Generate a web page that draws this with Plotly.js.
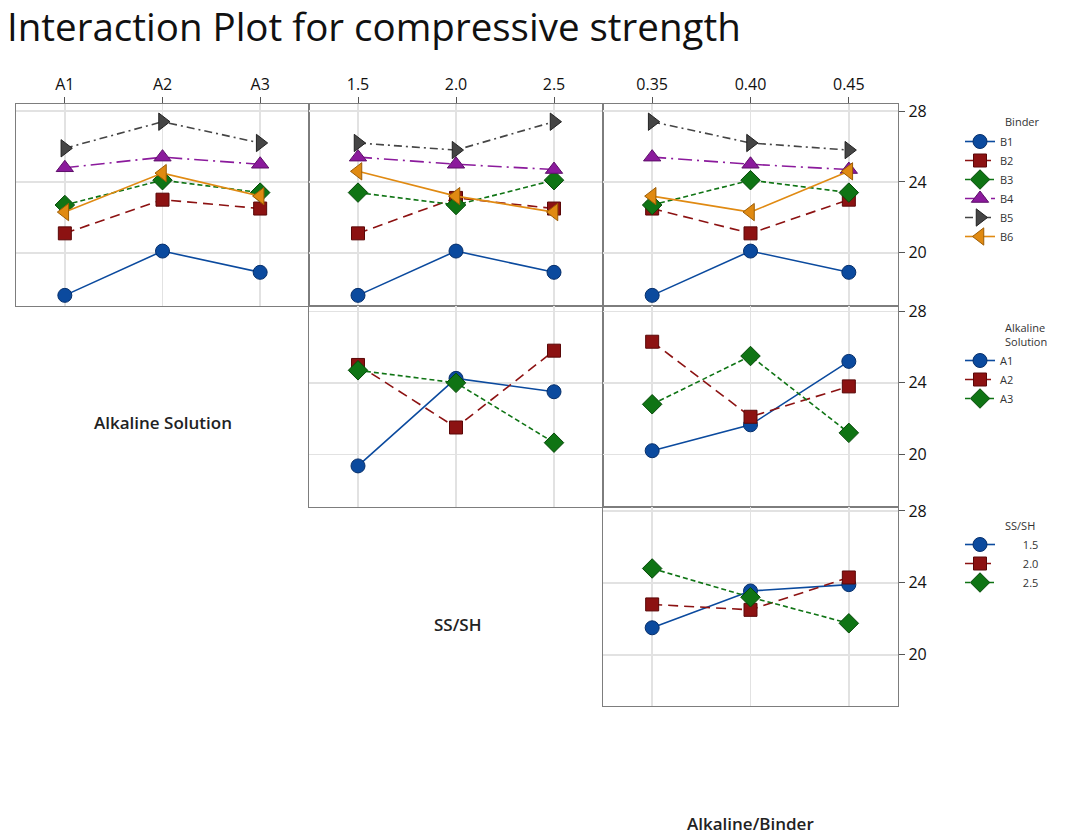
<!DOCTYPE html>
<html>
<head>
<meta charset="utf-8">
<script src="https://cdn.plot.ly/plotly-3.0.1.min.js"></script>
<style>html,body{margin:0;padding:0;background:#fff;}#chart{width:1066px;height:835px;}</style>
</head>
<body>
<div id="chart"></div>
<script>
// ---------- data ----------
const binders = ['B1', 'B2', 'B3', 'B4', 'B5', 'B6'];
const alkSolLevels = ['A1', 'A2', 'A3'];
const ssShLevels = ['1.5', '2.0', '2.5'];
const alkBinderLevels = ['0.35', '0.40', '0.45'];

// Binder x Alkaline Solution (rows = B1..B6)
const binderByAlkSol = [
  [17.6, 20.1, 18.9],
  [21.1, 23.0, 22.5],
  [22.7, 24.1, 23.4],
  [24.8, 25.4, 25.0],
  [25.9, 27.4, 26.2],
  [22.3, 24.5, 23.2]
];
// Binder x SS/SH
const binderBySsSh = [
  [17.6, 20.1, 18.9],
  [21.1, 23.1, 22.5],
  [23.4, 22.7, 24.1],
  [25.4, 25.0, 24.7],
  [26.2, 25.8, 27.4],
  [24.6, 23.2, 22.3]
];
// Binder x Alkaline/Binder
const binderByAlkBinder = [
  [17.6, 20.1, 18.9],
  [22.5, 21.1, 23.0],
  [22.7, 24.1, 23.4],
  [25.4, 25.0, 24.7],
  [27.4, 26.2, 25.8],
  [23.2, 22.3, 24.6]
];
// Alkaline Solution x SS/SH (rows = A1..A3)
const alkSolBySsSh = [
  [19.35, 24.25, 23.5],
  [25.0, 21.5, 25.8],
  [24.7, 24.0, 20.65]
];
// Alkaline Solution x Alkaline/Binder
const alkSolByAlkBinder = [
  [20.2, 21.65, 25.2],
  [26.3, 22.1, 23.8],
  [22.8, 25.5, 21.2]
];
// SS/SH x Alkaline/Binder (rows = 1.5, 2.0, 2.5)
const ssShByAlkBinder = [
  [21.5, 23.55, 23.9],
  [22.8, 22.5, 24.3],
  [24.8, 23.2, 21.75]
];
const yTicks = [20, 24, 28];

// ---------- styles ----------
const W = 1066, H = 835;
const styles = [
  {color: '#0b4a9e', edge: '#062f6b', symbol: 'circle', dash: 'solid', size: 14},
  {color: '#8c1212', edge: '#5a0808', symbol: 'square', dash: '10px,6px', size: 13},
  {color: '#0f7414', edge: '#064a09', symbol: 'diamond', dash: '5px,3px', size: 15},
  {color: '#8b1a9c', edge: '#5d0f69', symbol: 'triangle-up', dash: '14px,5px,2px,5px', size: 15},
  {color: '#454545', edge: '#222222', symbol: 'triangle-right', dash: '8px,4px,2px,4px', size: 15},
  {color: '#e08a12', edge: '#9c5c05', symbol: 'triangle-left', dash: 'solid', size: 15}
];

const traces = [];
function addGroup(levels, names, rowsData, xa, ya, legendId, showLegend, nameFmt) {
  rowsData.forEach((vals, i) => {
    const s = styles[i];
    traces.push({
      type: 'scatter', mode: 'lines+markers',
      x: levels, y: vals, xaxis: xa, yaxis: ya,
      name: nameFmt ? nameFmt(names[i]) : names[i],
      legend: legendId, legendgroup: legendId + names[i],
      showlegend: showLegend,
      line: {color: s.color, width: 1.6, dash: s.dash},
      marker: {symbol: s.symbol, size: s.size, color: s.color, line: {color: s.edge, width: 1}},
      hoverinfo: 'x+y+name'
    });
  });
}
addGroup(alkSolLevels, binders, binderByAlkSol, 'x', 'y', 'legend', true);
addGroup(ssShLevels, binders, binderBySsSh, 'x2', 'y2', 'legend', false);
addGroup(alkBinderLevels, binders, binderByAlkBinder, 'x3', 'y3', 'legend', false);
addGroup(ssShLevels, alkSolLevels, alkSolBySsSh, 'x4', 'y4', 'legend2', true);
addGroup(alkBinderLevels, alkSolLevels, alkSolByAlkBinder, 'x5', 'y5', 'legend2', false);
addGroup(alkBinderLevels, ssShLevels, ssShByAlkBinder, 'x6', 'y6', 'legend3', true,
  n => '\u00a0\u00a0\u00a0\u00a0\u00a0\u00a0\u00a0\u00a0' + n);

// ---------- layout ----------
const px = v => v / W;
const py = v => 1 - v / H;
const cols = [[16, 309], [309, 603], [603, 898]];
const rows = [[104, 306], [306, 507], [507, 706]];
const rowRanges = [[17.0, 28.4], [17.05, 28.3], [17.15, 28.22]];
const gridColor = '#e2e2e2';
const borderColor = '#7d7d7d';
const tickFont = {family: 'Open Sans, Noto Sans, sans-serif', size: 16, color: '#111', weight: 500};

function xAxis(col, row, levels, anchor, showLabels) {
  return {
    domain: [px(cols[col][0]), px(cols[col][1])],
    anchor: anchor, type: 'category', categoryarray: levels, categoryorder: 'array',
    range: [-0.5, 2.5], side: 'top',
    showgrid: true, gridcolor: gridColor, gridwidth: 1.5,
    showline: true, linecolor: borderColor, linewidth: 1.2, mirror: true,
    ticks: showLabels ? 'outside' : '', ticklen: 6, tickcolor: '#555',
    showticklabels: showLabels, tickfont: tickFont, zeroline: false, fixedrange: true
  };
}
function yAxis(col, row, anchor, showLabels) {
  return {
    domain: [py(rows[row][1]), py(rows[row][0])],
    anchor: anchor, range: rowRanges[row], side: 'right',
    tickvals: yTicks, ticktext: yTicks.map(String),
    showgrid: true, gridcolor: gridColor, gridwidth: 1.5,
    showline: true, linecolor: borderColor, linewidth: 1.2, mirror: true,
    ticks: showLabels ? 'outside' : '', ticklen: 6, tickcolor: '#555',
    showticklabels: showLabels, tickfont: tickFont, zeroline: false, fixedrange: true
  };
}

const legendFont = {family: 'Open Sans, Noto Sans, sans-serif', size: 11, color: '#333'};
const legendBase = {
  xanchor: 'left', yanchor: 'top', bgcolor: 'rgba(0,0,0,0)', borderwidth: 0,
  font: legendFont, tracegroupgap: 0, itemclick: false, itemdoubleclick: false
};
const annFont = {family: 'Open Sans, Noto Sans, sans-serif', size: 17, color: '#222', weight: 600};
const legTitleFont = {family: 'Open Sans, Noto Sans, sans-serif', size: 11, color: '#333'};

const layout = {
  width: W, height: H,
  margin: {l: 0, r: 0, t: 0, b: 0},
  paper_bgcolor: '#ffffff', plot_bgcolor: '#ffffff',
  title: {
    text: 'Interaction Plot for compressive strength',
    x: px(7), xanchor: 'left', xref: 'paper',
    y: py(28), yanchor: 'middle', yref: 'paper',
    font: {family: 'Open Sans, Noto Sans, sans-serif', size: 38.5, color: '#111'}
  },
  xaxis: xAxis(0, 0, alkSolLevels, 'y', true),
  yaxis: yAxis(0, 0, 'x', false),
  xaxis2: xAxis(1, 0, ssShLevels, 'y2', true),
  yaxis2: yAxis(1, 0, 'x2', false),
  xaxis3: xAxis(2, 0, alkBinderLevels, 'y3', true),
  yaxis3: yAxis(2, 0, 'x3', true),
  xaxis4: xAxis(1, 1, ssShLevels, 'y4', false),
  yaxis4: yAxis(1, 1, 'x4', false),
  xaxis5: xAxis(2, 1, alkBinderLevels, 'y5', false),
  yaxis5: yAxis(2, 1, 'x5', true),
  xaxis6: xAxis(2, 2, alkBinderLevels, 'y6', false),
  yaxis6: yAxis(2, 2, 'x6', true),
  legend: Object.assign({}, legendBase, {x: px(960), y: py(127)}),
  legend2: Object.assign({}, legendBase, {x: px(960), y: py(346)}),
  legend3: Object.assign({}, legendBase, {x: px(960), y: py(530)}),
  annotations: [
    {text: 'Binder', x: px(1003), y: py(122), xref: 'paper', yref: 'paper', xanchor: 'left', yanchor: 'middle', showarrow: false, font: legTitleFont},
    {text: 'Alkaline<br>Solution', x: px(1003), y: py(334), xref: 'paper', yref: 'paper', xanchor: 'left', yanchor: 'middle', align: 'left', showarrow: false, font: legTitleFont},
    {text: 'SS/SH', x: px(1003), y: py(525), xref: 'paper', yref: 'paper', xanchor: 'left', yanchor: 'middle', showarrow: false, font: legTitleFont},
    {text: 'Alkaline Solution', x: px(163), y: py(423), xref: 'paper', yref: 'paper', xanchor: 'center', yanchor: 'middle', showarrow: false, font: annFont},
    {text: 'SS/SH', x: px(457), y: py(624), xref: 'paper', yref: 'paper', xanchor: 'center', yanchor: 'middle', showarrow: false, font: annFont},
    {text: 'Alkaline/Binder', x: px(750), y: py(823), xref: 'paper', yref: 'paper', xanchor: 'center', yanchor: 'middle', showarrow: false, font: annFont}
  ]
};

Plotly.newPlot('chart', traces, layout, {displayModeBar: false, staticPlot: true});
</script>
</body>
</html>
